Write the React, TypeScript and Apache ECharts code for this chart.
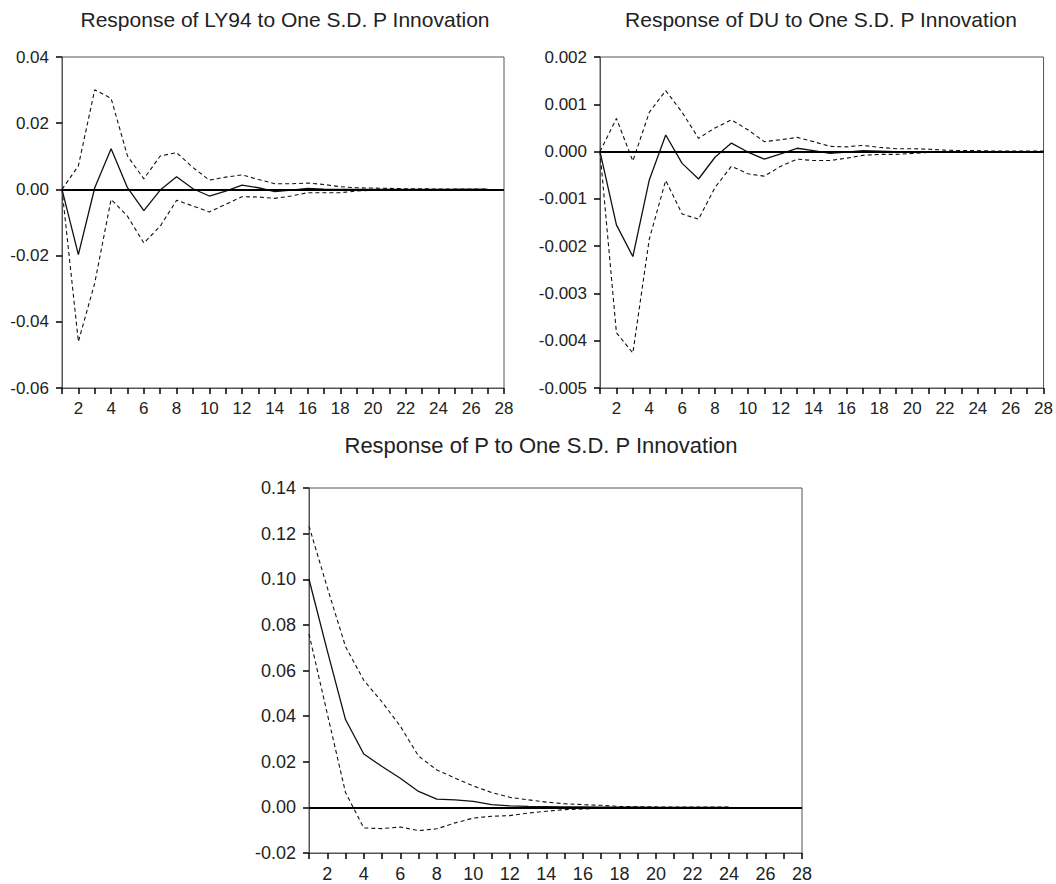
import React, { useEffect, useRef } from "react";
import * as echarts from "echarts";

// Periods are the horizontal positions 1..28
const xTickMax = 28;

// Response of LY94 to One S.D. P Innovation
const ly94Resp = [0, -0.0197, 0.0005, 0.0123, 0.0005, -0.0064, -0.0002, 0.0038, 0.0002, -0.002, -0.0005, 0.0013, 0.0005, -0.0007, -0.0002, 0.0003, 0.0001, 0, 0, 0, 0, 0, 0, 0, 0, 0, 0];
const ly94Upper = [0, 0.0071, 0.0301, 0.0275, 0.0101, 0.0032, 0.0101, 0.0111, 0.0066, 0.0028, 0.0037, 0.0044, 0.003, 0.0017, 0.0017, 0.0019, 0.0015, 0.0008, 0.0005, 0.0004, 0.0003, 0.0002, 0.0002, 0.0001, 0.0001, 0.0001, 0.0001];
const ly94Lower = [0, -0.046, -0.0283, -0.003, -0.0081, -0.0162, -0.0111, -0.0033, -0.005, -0.0068, -0.0045, -0.0022, -0.0023, -0.0027, -0.002, -0.001, -0.001, -0.001, -0.0005, -0.0002, -0.0001, -0.0001, -0.0001, -0.0001, 0, 0, 0];

// Response of DU to One S.D. P Innovation
const duResp = [0, -0.00155, -0.00222, -0.0006, 0.00035, -0.00025, -0.00058, -0.00012, 0.00018, -0.00001, -0.00016, -0.00005, 0.00007, 0.00002, -0.00004, -0.00001, 0.00002, 0.00001, 0, 0, 0, 0, 0, 0, 0, 0, 0, 0];
const duUpper = [0, 0.0007, -0.0002, 0.00083, 0.00129, 0.00083, 0.00028, 0.0005, 0.00067, 0.00046, 0.00021, 0.00025, 0.0003, 0.00021, 0.00011, 0.0001, 0.00013, 0.00009, 0.00006, 0.00006, 0.00005, 0.00003, 0.00002, 0.00002, 0.00001, 0.00001, 0.00001, 0.00001];
const duLower = [0, -0.00383, -0.00426, -0.00185, -0.00061, -0.00132, -0.00143, -0.00076, -0.00031, -0.00047, -0.00052, -0.00031, -0.00016, -0.00019, -0.00019, -0.00014, -0.00008, -0.00006, -0.00006, -0.00004, -0.00002, -0.00001, -0.00001, 0, 0, 0, 0, 0];

// Response of P to One S.D. P Innovation
const pResp = [0.1, 0.0687, 0.0385, 0.0234, 0.0179, 0.0128, 0.007, 0.0036, 0.0033, 0.0026, 0.0012, 0.0007, 0.0004, 0.0003, 0.0002, 0.0002, 0.0001, 0.0001, 0.0001, 0, 0, 0, 0, 0];
const pUpper = [0.1233, 0.0964, 0.0705, 0.0557, 0.0462, 0.0356, 0.0225, 0.0164, 0.0128, 0.0094, 0.0065, 0.0044, 0.0033, 0.0023, 0.0016, 0.0012, 0.0009, 0.0004, 0.0003, 0.0002, 0.0001, 0.0001, 0.0001, 0.0001];
const pLower = [0.076, 0.0411, 0.0065, -0.009, -0.0093, -0.0086, -0.0102, -0.0094, -0.0068, -0.0047, -0.0039, -0.0036, -0.0025, -0.0017, -0.001, -0.0007, -0.0003, -0.0003, -0.0003, -0.0001, -0.0001, -0.0001, -0.0001, -0.0001];

const titles = [
  "Response of LY94 to One S.D. P Innovation",
  "Response of DU to One S.D. P Innovation",
  "Response of P to One S.D. P Innovation",
];

const yRanges = [
  { min: -0.06, max: 0.04, interval: 0.02, digits: 2 },
  { min: -0.005, max: 0.002, interval: 0.001, digits: 3 },
  { min: -0.02, max: 0.14, interval: 0.02, digits: 2 },
];

const FONT = "'Liberation Sans', Arial, Helvetica, sans-serif";

const toPairs = (arr: number[]) => arr.map((v, i) => [i + 1, v]);

export default function App() {
  const ref = useRef<HTMLDivElement>(null);

  useEffect(() => {
    if (!ref.current) return;
    const chart = echarts.init(ref.current, undefined, { renderer: "svg" });

    const grids = [
      { left: 62, top: 57, width: 442, height: 331 },
      { left: 600, top: 57, width: 447, height: 331 },
      { left: 309, top: 488, width: 493, height: 365 },
    ];
    const tickFont = [17, 17, 18];
    const titlePos = [
      { x: 285, y: 19, size: 21 },
      { x: 821, y: 19, size: 21 },
      { x: 541, y: 445, size: 22 },
    ];

    const xAxes = grids.map((_, i) => ({
      type: "value",
      gridIndex: i,
      min: 1,
      max: xTickMax,
      interval: 1,
      axisLine: { show: true, onZero: false, lineStyle: { color: "#555", width: 1 } },
      axisTick: { show: true, length: 6, inside: false, lineStyle: { color: "#000", width: 1.5 } },
      axisLabel: {
        margin: 12,
        fontSize: tickFont[i],
        fontFamily: FONT,
        color: "#222",
        showMinLabel: true,
        showMaxLabel: true,
        formatter: (v: number) => (Math.round(v) % 2 === 0 ? String(Math.round(v)) : ""),
      },
      splitLine: { show: false },
    }));

    const yAxes = grids.map((_, i) => ({
      type: "value",
      gridIndex: i,
      min: yRanges[i].min,
      max: yRanges[i].max,
      interval: yRanges[i].interval,
      axisLine: { show: true, lineStyle: { color: "#555", width: 1 } },
      axisTick: { show: true, length: 6, lineStyle: { color: "#000", width: 1.5 } },
      axisLabel: {
        margin: 13,
        fontSize: tickFont[i],
        fontFamily: FONT,
        color: "#222",
        formatter: (v: number) => v.toFixed(yRanges[i].digits),
      },
      splitLine: { show: false },
    }));

    const sets = [
      [ly94Resp, ly94Upper, ly94Lower],
      [duResp, duUpper, duLower],
      [pResp, pUpper, pLower],
    ];

    const series: any[] = [];
    sets.forEach((s, i) => {
      series.push({
        type: "line",
        xAxisIndex: i,
        yAxisIndex: i,
        data: toPairs(s[0]),
        symbol: "none",
        lineStyle: { color: "#111", width: 1.3, type: "solid" },
        z: 3,
        markLine: {
          silent: true,
          symbol: ["none", "none"],
          label: { show: false },
          lineStyle: { color: "#000", width: 2, type: "solid" },
          data: [{ yAxis: 0 }],
          z: 4,
        },
      });
      [1, 2].forEach((k) => {
        series.push({
          type: "line",
          xAxisIndex: i,
          yAxisIndex: i,
          data: toPairs(s[k]),
          symbol: "none",
          lineStyle: { color: "#111", width: 1.1, type: [4, 3] },
          z: 2,
        });
      });
    });

    chart.setOption({
      animation: false,
      backgroundColor: "#fff",
      grid: grids.map((g) => ({ ...g, show: true, borderColor: "#555", borderWidth: 1, backgroundColor: "transparent" })),
      xAxis: xAxes,
      yAxis: yAxes,
      series,
      graphic: titles.map((t, i) => ({
        type: "text",
        x: titlePos[i].x,
        y: titlePos[i].y,
        style: {
          text: t,
          align: "center",
          verticalAlign: "middle",
          fontSize: titlePos[i].size,
          fontFamily: FONT,
          fill: "#222",
        },
      })),
    });

    return () => chart.dispose();
  }, []);

  return (
    <div
      ref={ref}
      style={{ position: "fixed", left: 0, top: 0, width: 1056, height: 884, background: "#fff" }}
    />
  );
}
